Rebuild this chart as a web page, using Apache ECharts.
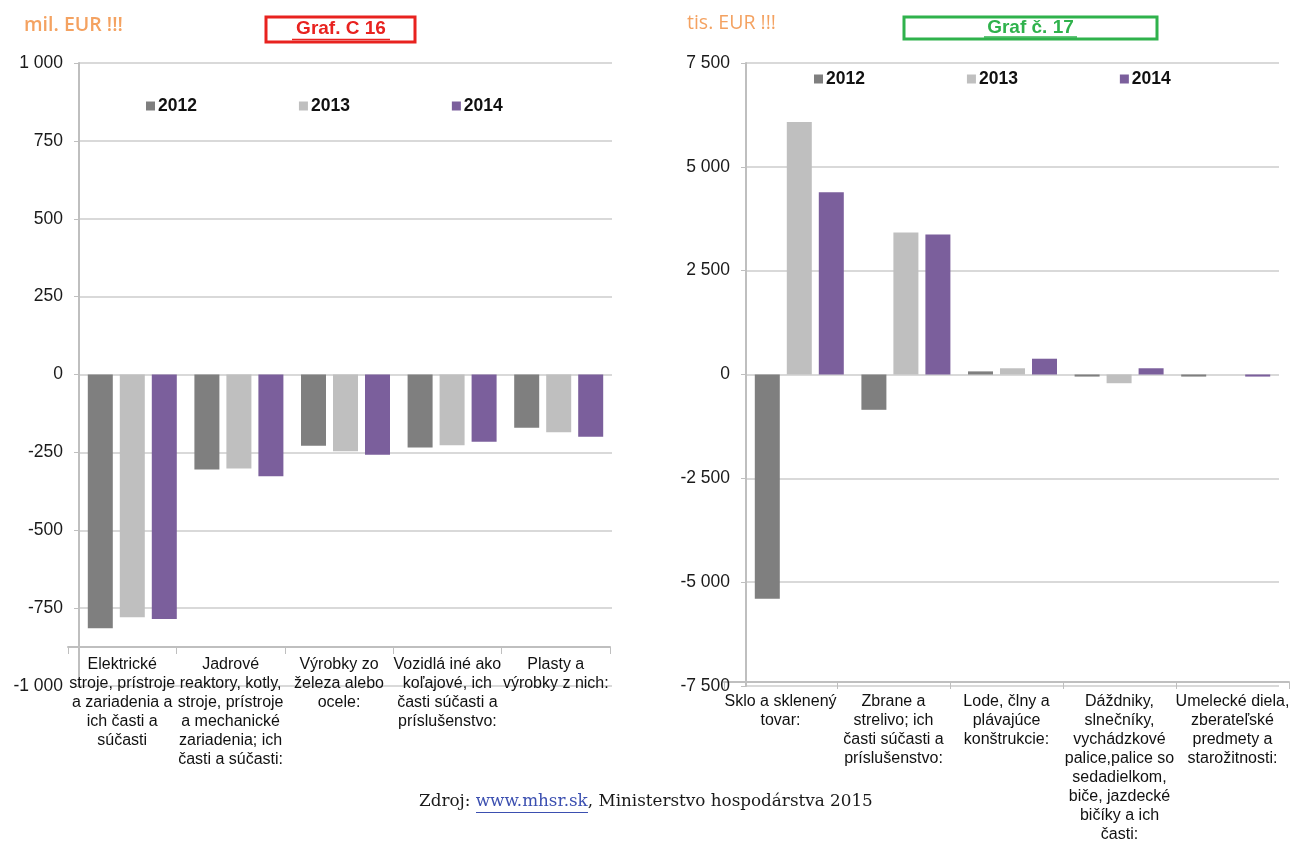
<!DOCTYPE html>
<html>
<head>
<meta charset="utf-8">
<title>Graf C 16 / Graf č. 17</title>
<script src="https://cdn.jsdelivr.net/npm/echarts@6/dist/echarts.min.js"></script>
<style>
  html, body { margin: 0; padding: 0; background: #fff; }
  #chart { width: 1294px; height: 844px; }
</style>
</head>
<body>
<div id="chart"></div>
<script>
  // --- data (mil. EUR, left chart) ---
  const leftCategories = [
    'Elektrické\nstroje, prístroje\na zariadenia a\nich časti a\nsúčasti',
    'Jadrové\nreaktory, kotly,\nstroje, prístroje\na mechanické\nzariadenia; ich\nčasti a súčasti:',
    'Výrobky zo\nželeza alebo\nocele:',
    'Vozidlá iné ako\nkoľajové, ich\nčasti súčasti a\npríslušenstvo:',
    'Plasty a\nvýrobky z nich:'
  ];
  const left2012 = [-815, -305, -229, -234, -171];
  const left2013 = [-779, -302, -246, -227, -185];
  const left2014 = [-785, -327, -258, -216, -200];

  // --- data (tis. EUR, right chart) ---
  const rightCategories = [
    'Sklo a sklenený\ntovar:',
    'Zbrane a\nstrelivo; ich\nčasti súčasti a\npríslušenstvo:',
    'Lode, člny a\nplávajúce\nkonštrukcie:',
    'Dáždniky,\nslnečníky,\nvychádzkové\npalice,palice so\nsedadielkom,\nbiče, jazdecké\nbičíky a ich\nčasti:',
    'Umelecké diela,\nzberateľské\npredmety a\nstarožitnosti:'
  ];
  const right2012 = [-5400, -850, 75, -50, -50];
  const right2013 = [6080, 3420, 150, -210, 0];
  const right2014 = [4390, 3370, 380, 150, -50];

  const years = ['2012', '2013', '2014'];
  const colors = ['#7f7f7f', '#bfbfbf', '#7b5f9c'];

  const font = 'Liberation Sans, Arial, sans-serif';

  // 1 000 / -7 500
  function fmt(v) {
    const s = Math.abs(v).toString().replace(/\B(?=(\d{3})+(?!\d))/g, ' ');
    return (v < 0 ? '-' : '') + s;
  }

  function valueAxis(gridIndex, min, max, interval) {
    return {
      type: 'value',
      gridIndex: gridIndex,
      min: min,
      max: max,
      interval: interval,
      axisLine: { show: true, lineStyle: { color: '#bfbfbf', width: 2 } },
      axisTick: { show: true, length: 5, lineStyle: { color: '#bfbfbf' } },
      axisLabel: { fontFamily: font, fontSize: 17.5, color: '#1a1a1a', margin: 16, formatter: fmt },
      splitLine: { lineStyle: { color: '#d9d9d9', width: 2 } }
    };
  }

  function labelAxis(gridIndex, data, margin) {
    return {
      type: 'category',
      gridIndex: gridIndex,
      data: data,
      axisLine: { lineStyle: { color: '#bfbfbf', width: 2 } },
      axisTick: { show: true, length: 7, lineStyle: { color: '#bfbfbf' } },
      axisLabel: {
        interval: 0, fontFamily: font, fontSize: 16, lineHeight: 19,
        color: '#111', margin: margin
      }
    };
  }

  function barSeries(year, i, axisIndex, data) {
    return {
      name: year,
      type: 'bar',
      xAxisIndex: axisIndex,
      yAxisIndex: axisIndex,
      data: data,
      barWidth: 25,
      barGap: '28%',
      itemStyle: { color: colors[i] },
      silent: true
    };
  }

  const legendBase = {
    data: years,
    orient: 'horizontal',
    icon: 'rect',
    itemWidth: 9,
    itemHeight: 9,
    itemGap: 102,
    padding: 0,
    textStyle: { fontFamily: font, fontSize: 17.5, fontWeight: 'bold', color: '#111', padding: [0, 0, 0, -2] }
  };

  const chart = echarts.init(document.getElementById('chart'));
  chart.setOption({
    animation: false,
    color: colors,
    textStyle: { fontFamily: font },
    title: [
      { text: 'mil. EUR !!!', left: 19, top: 10,
        textStyle: { fontFamily: 'Open Sans', fontSize: 19.5, fontWeight: 600, color: '#f4a261' } },
      { text: 'tis. EUR !!!', left: 682, top: 8,
        textStyle: { fontFamily: 'Open Sans', fontSize: 19.5, fontWeight: 'normal', color: '#f4a261' } }
    ],
    legend: [
      Object.assign({ left: 146, top: 97 }, legendBase),
      Object.assign({ left: 814, top: 70 }, legendBase)
    ],
    grid: [
      { left: 79, top: 63, width: 533, height: 623 },   // left bars
      { left: 68, top: 63, width: 542, height: 584 },   // left category labels
      { left: 746, top: 63, width: 533, height: 623 },  // right bars
      { left: 724, top: 63, width: 565, height: 623 }   // right category labels
    ],
    xAxis: [
      { type: 'category', gridIndex: 0, data: leftCategories, show: false },
      labelAxis(1, leftCategories, 8),
      { type: 'category', gridIndex: 2, data: rightCategories, show: false },
      labelAxis(3, rightCategories, 10)
    ],
    yAxis: [
      valueAxis(0, -1000, 1000, 250),
      { type: 'value', gridIndex: 1, show: false, min: 0, max: 1 },
      valueAxis(2, -7500, 7500, 2500),
      { type: 'value', gridIndex: 3, show: false, min: 0, max: 1 }
    ],
    series: [
      barSeries('2012', 0, 0, left2012),
      barSeries('2013', 1, 0, left2013),
      barSeries('2014', 2, 0, left2014),
      barSeries('2012', 0, 2, right2012),
      barSeries('2013', 1, 2, right2013),
      barSeries('2014', 2, 2, right2014)
    ],
    graphic: [
      // red box "Graf. C 16"
      { type: 'rect', shape: { x: 266, y: 17, width: 149, height: 25 },
        style: { fill: 'none', stroke: '#e8221f', lineWidth: 3 } },
      { type: 'text', x: 341, y: 29,
        style: { text: 'Graf. C 16', fill: '#e8221f', font: 'bold 19px ' + font, align: 'center', verticalAlign: 'middle' } },
      { type: 'line', shape: { x1: 292, y1: 39.5, x2: 390, y2: 39.5 }, style: { stroke: '#e8221f', lineWidth: 1.5 } },
      // green box "Graf č. 17"
      { type: 'rect', shape: { x: 904, y: 17, width: 253, height: 22 },
        style: { fill: 'none', stroke: '#2fb24c', lineWidth: 3 } },
      { type: 'text', x: 1030.5, y: 27.5,
        style: { text: 'Graf č. 17', fill: '#2fb24c', font: 'bold 19px ' + font, align: 'center', verticalAlign: 'middle' } },
      { type: 'line', shape: { x1: 984, y1: 37, x2: 1077, y2: 37 }, style: { stroke: '#2fb24c', lineWidth: 1.5 } },
      // source
      { type: 'text', x: 419, y: 802,
        style: {
          text: '{a|Zdroj: }{b|www.mhsr.sk}{a|, Ministerstvo hospodárstva 2015}',
          verticalAlign: 'middle',
          rich: {
            a: { fontFamily: 'DejaVu Serif', fontSize: 16.8, fill: '#1a1a1a' },
            b: { fontFamily: 'DejaVu Serif', fontSize: 16.8, fill: '#3b4fb0' }
          }
        } },
      { type: 'line', shape: { x1: 476, y1: 812.5, x2: 588, y2: 812.5 }, style: { stroke: '#3b4fb0', lineWidth: 1 } }
    ]
  });
</script>
</body>
</html>
